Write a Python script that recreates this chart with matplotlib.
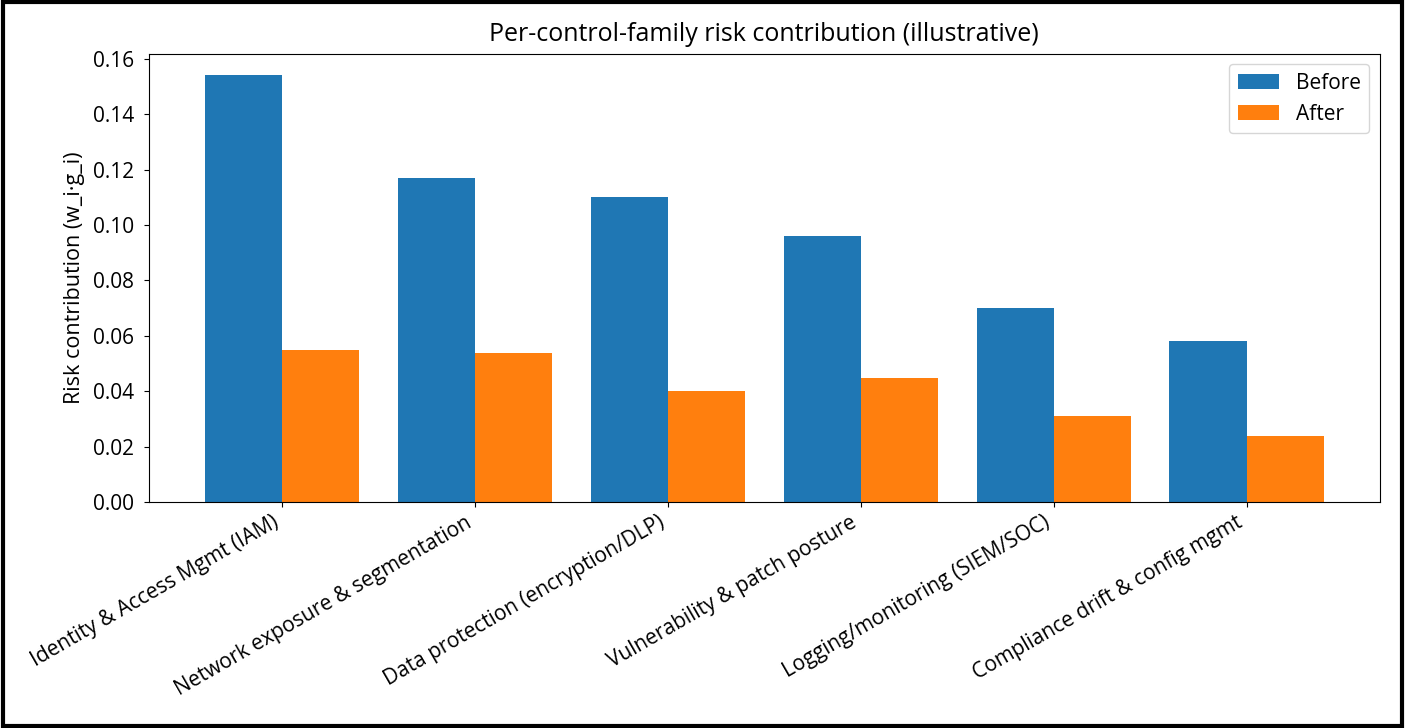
import matplotlib
matplotlib.use("Agg")
import matplotlib.pyplot as plt
import numpy as np
from matplotlib.patches import Rectangle

families = [
    "Identity & Access Mgmt (IAM)",
    "Network exposure & segmentation",
    "Data protection (encryption/DLP)",
    "Vulnerability & patch posture",
    "Logging/monitoring (SIEM/SOC)",
    "Compliance drift & config mgmt",
]
before = [0.154, 0.117, 0.110, 0.096, 0.070, 0.058]
after = [0.055, 0.054, 0.040, 0.045, 0.031, 0.024]

plt.rcParams["font.family"] = ["Open Sans", "DejaVu Sans"]
fs = 15
fig, ax = plt.subplots(figsize=(14.05, 7.28), dpi=100)

x = np.arange(len(families))
width = 0.4
ax.bar(x - width / 2, before, width, label="Before", color="#1f77b4")
ax.bar(x + width / 2, after, width, label="After", color="#ff7f0e")

ax.set_xticks(x)
ax.set_xticklabels(families, rotation=30, ha="right", fontsize=fs)
ax.tick_params(axis="y", labelsize=fs, pad=7)
ax.set_ylabel("Risk contribution (w_i·g_i)", fontsize=15.5, labelpad=6)
ax.set_title("Per-control-family risk contribution (illustrative)", fontsize=18, pad=9)
ax.legend(fontsize=fs)

fig.subplots_adjust(left=0.106, right=0.982, top=0.926, bottom=0.31)

# frame round the whole figure
fig.patches.append(Rectangle((0.002, 0.003), 0.996, 0.994, transform=fig.transFigure,
                             fill=False, edgecolor="black", linewidth=3))

fig.savefig("out.png", dpi=100)
